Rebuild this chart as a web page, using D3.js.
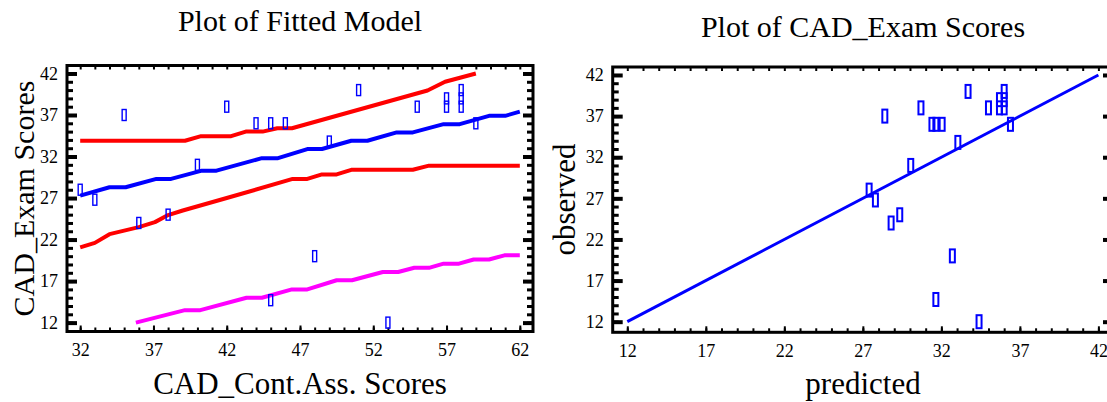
<!DOCTYPE html>
<html>
<head>
<meta charset="utf-8">
<script src="https://cdn.jsdelivr.net/npm/d3@7/dist/d3.min.js"></script>
<style>
  body { margin: 0; background: #fff; }
  text { font-family: "Liberation Serif", "Times New Roman", serif; fill: #000; }
</style>
</head>
<body>
<svg id="chart" width="1107" height="402"></svg>
<script>
// scatter data (CAD_Cont.Ass. vs CAD_Exam)
let contAss = [32, 33, 35, 36, 38, 40, 42, 44, 45, 46, 45, 48, 49, 51, 53, 55, 57, 57, 58, 58, 58, 59];
let examScore = [28, 26.8, 37, 24, 25, 31, 38, 36, 36, 36, 14.7, 20, 33.8, 40, 12, 38, 38, 39, 38, 39, 40, 36];

// predicted values (same order as above)
let predicted = [27.4, 27.8, 28.4, 28.8, 29.35, 30.05, 30.7, 31.4, 31.65, 32.05, 31.65, 32.7, 33.05, 33.7, 34.4, 35.0, 35.7, 35.7, 36.0, 36.0, 36.0, 36.4];

// fitted line (blue)
let fitX = [32, 34, 35.1, 37.2, 38.2, 40.3, 41.3, 44.4, 45.5, 47.5, 48.5, 50.5, 51.6, 53.6, 54.7, 56.8, 57.9, 59.9, 61, 62];
let fitY = [27.3, 28.3, 28.3, 29.3, 29.3, 30.3, 30.3, 31.8, 31.8, 32.9, 32.9, 33.9, 33.9, 34.9, 34.9, 35.9, 35.9, 36.9, 36.9, 37.4];

// upper limit (red)
let upX = [32, 39.15, 40.25, 42.3, 43.3, 44.45, 45.45, 46.45, 55.7, 56.9, 59];
let upY = [33.9, 33.9, 34.45, 34.45, 35.0, 35.0, 35.4, 35.4, 39.95, 41.0, 42];

// lower limit (red)
let lowX = [32, 33, 34, 36, 37.1, 38, 39, 42, 46.5, 47.5, 48.5, 49.5, 50.5, 54.7, 55.8, 62];
let lowY = [21.05, 21.6, 22.65, 23.5, 24.1, 24.95, 25.5, 27.0, 29.3, 29.3, 29.85, 29.85, 30.4, 30.4, 30.9, 30.9];

// lower prediction limit (magenta)
let predLowX = [35.8, 39.15, 40.2, 43.35, 44.4, 46.45, 47.5, 49.5, 50.55, 52.65, 53.7, 54.8, 55.8, 56.8, 57.85, 58.85, 59.9, 60.95, 62];
let predLowY = [12, 13.5, 13.5, 15.0, 15.0, 16.0, 16.0, 17.1, 17.1, 18.1, 18.1, 18.6, 18.6, 19.1, 19.1, 19.6, 19.6, 20.1, 20.1];

// diagonal on observed vs predicted
let diagX = [12, 42];
let diagY = [12, 42];

let xTicksLeft = [32, 37, 42, 47, 52, 57, 62];
let yTicks = [12, 17, 22, 27, 32, 37, 42];
let xTicksRight = [12, 17, 22, 27, 32, 37, 42];

let svg = d3.select('#chart');

let xL = d3.scaleLinear().domain([31.1, 62.9]).range([67, 533]);
let yL = d3.scaleLinear().domain([10.93, 42.96]).range([331.5, 65.5]);
let xR = d3.scaleLinear().domain([11.07, 42.93]).range([612.7, 1113]);
let yR = d3.scaleLinear().domain([10.71, 42.97]).range([332.3, 67]);

function drawAxes(x, y, xMajor, xMinor, yMajor, yMinor) {
    let x0 = x.range()[0], x1 = x.range()[1];
    let y0 = y.range()[0], y1 = y.range()[1];
    let g = svg.append('g');

    let parts = [
        [d3.axisBottom(x).tickValues(xMinor).tickSize(-4).tickFormat(''), 'translate(0,' + y0 + ')', 2],
        [d3.axisBottom(x).tickValues(xMajor).tickSize(-6).tickPadding(12), 'translate(0,' + y0 + ')', 2],
        [d3.axisTop(x).tickValues(xMinor).tickSize(-4).tickFormat(''), 'translate(0,' + y1 + ')', 2],
        [d3.axisLeft(y).tickValues(yMinor).tickSize(-6).tickFormat(''), 'translate(' + x0 + ',0)', 3],
        [d3.axisLeft(y).tickValues(yMajor).tickSize(-10).tickPadding(9), 'translate(' + x0 + ',0)', 4],
        [d3.axisRight(y).tickValues(yMinor).tickSize(-6).tickFormat(''), 'translate(' + x1 + ',0)', 3],
        [d3.axisRight(y).tickValues(yMajor).tickSize(-10).tickFormat(''), 'translate(' + x1 + ',0)', 4]
    ];
    parts.forEach(function(p) {
        let a = g.append('g').attr('transform', p[1]).call(p[0]);
        a.select('.domain').remove();
        a.selectAll('line').attr('stroke', '#000').attr('stroke-width', p[2]);
        a.selectAll('text')
            .style('font-family', '"Liberation Serif", serif')
            .style('font-size', '18px')
            .attr('fill', '#000');
    });

    // frame
    g.append('rect')
        .attr('x', x0).attr('y', y1)
        .attr('width', x1 - x0).attr('height', y0 - y1)
        .attr('fill', 'none')
        .attr('stroke', '#000')
        .attr('stroke-width', 3);
}

function drawLine(x, y, xs, ys, color, w) {
    let pts = xs.map((d, i) => [d, ys[i]]);
    svg.append('path')
        .datum(pts)
        .attr('fill', 'none')
        .attr('stroke', color)
        .attr('stroke-width', w)
        .attr('stroke-linejoin', 'round')
        .attr('d', d3.line().x(d => x(d[0])).y(d => y(d[1])));
}

// ---------- left panel: Plot of Fitted Model ----------
drawAxes(xL, yL, xTicksLeft, d3.range(32, 63), yTicks, d3.range(12, 43));

drawLine(xL, yL, upX, upY, '#ff0000', 4);
drawLine(xL, yL, lowX, lowY, '#ff0000', 4);
drawLine(xL, yL, fitX, fitY, '#0000ff', 4);
drawLine(xL, yL, predLowX, predLowY, '#ff00ff', 4);

svg.append('g').selectAll('rect')
    .data(contAss.map((d, i) => [d, examScore[i]]))
    .enter().append('rect')
    .attr('x', d => xL(d[0]) - 2)
    .attr('y', d => yL(d[1]) - 5.5)
    .attr('width', 4)
    .attr('height', 11)
    .attr('fill', 'none')
    .attr('stroke', '#0000ff')
    .attr('stroke-width', 1.4);

svg.append('text').attr('x', 300).attr('y', 31)
    .attr('text-anchor', 'middle').style('font-size', '30px')
    .text('Plot of Fitted Model');
svg.append('text').attr('x', 300).attr('y', 394)
    .attr('text-anchor', 'middle').style('font-size', '31px')
    .text('CAD_Cont.Ass. Scores');
svg.append('text')
    .attr('transform', 'translate(34,198.5) rotate(-90)')
    .attr('text-anchor', 'middle').style('font-size', '30px')
    .text('CAD_Exam Scores');

// ---------- right panel: observed vs predicted ----------
drawAxes(xR, yR, xTicksRight, d3.range(12, 43), yTicks, d3.range(12, 43));

drawLine(xR, yR, diagX, diagY, '#0000ff', 3);

svg.append('g').selectAll('rect')
    .data(predicted.map((d, i) => [d, examScore[i]]))
    .enter().append('rect')
    .attr('x', d => xR(d[0]) - 2.5)
    .attr('y', d => yR(d[1]) - 6.5)
    .attr('width', 5)
    .attr('height', 13)
    .attr('fill', 'none')
    .attr('stroke', '#0000ff')
    .attr('stroke-width', 2);

svg.append('text').attr('x', 863).attr('y', 37)
    .attr('text-anchor', 'middle').style('font-size', '30px')
    .text('Plot of CAD_Exam Scores');
svg.append('text').attr('x', 863).attr('y', 394)
    .attr('text-anchor', 'middle').style('font-size', '31px')
    .text('predicted');
svg.append('text')
    .attr('transform', 'translate(575,199.5) rotate(-90)')
    .attr('text-anchor', 'middle').style('font-size', '31px')
    .text('observed');
</script>
</body>
</html>
